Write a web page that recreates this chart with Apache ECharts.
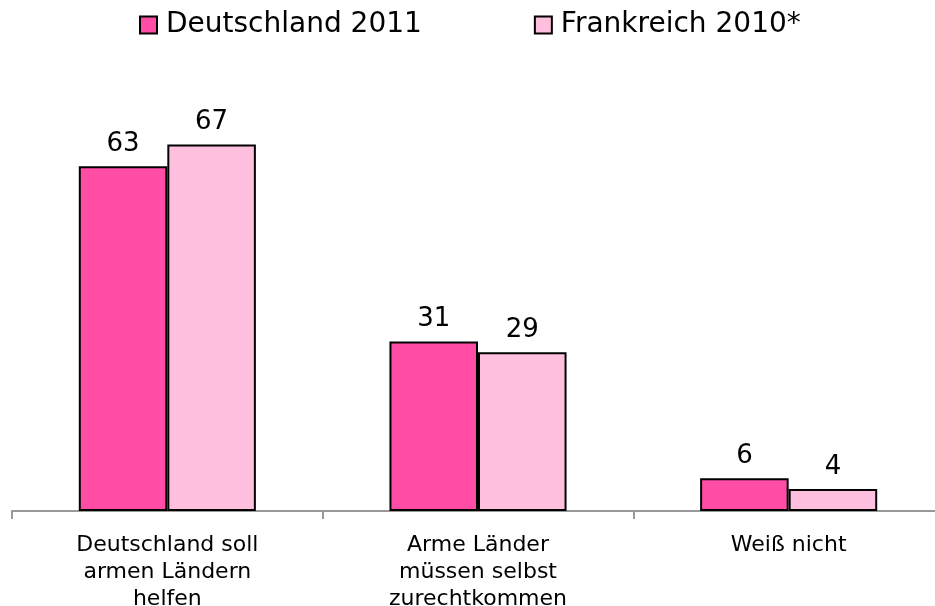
<!DOCTYPE html>
<html>
<head>
<meta charset="utf-8">
<script src="https://cdn.jsdelivr.net/npm/echarts@6/dist/echarts.min.js"></script>
<style>
  html, body { margin: 0; padding: 0; background: #fff; }
  #chart { width: 935px; height: 606px; }
</style>
</head>
<body>
<div id="chart"></div>
<script>
const categories = ['Deutschland soll\narmen Ländern\nhelfen', 'Arme Länder\nmüssen selbst\nzurechtkommen', 'Weiß nicht']
const seriesNames = ['Deutschland 2011', 'Frankreich 2010*']
const deutschland = [63, 31, 6]
const frankreich = [67, 29, 4]

const font = 'Verdana, "DejaVu Sans", sans-serif'
const chart = echarts.init(document.getElementById('chart'))

function barSeries(name, data, color) {
  return {
    name: name,
    type: 'bar',
    data: data,
    barGap: '0%',
    barCategoryGap: '43%',
    itemStyle: { color: color, borderColor: '#000', borderWidth: 2 },
    label: {
      show: true,
      position: 'top',
      distance: 9,
      color: '#000',
      fontFamily: font,
      fontSize: 26
    }
  }
}

chart.setOption({
  animation: false,
  legend: {
    top: 6,
    left: 134,
    itemWidth: 17,
    itemHeight: 17,
    itemGap: 112,
    icon: 'rect',
    itemStyle: { borderColor: '#000', borderWidth: 2 },
    textStyle: { fontFamily: font, fontSize: 28, color: '#000', padding: [0, 0, 0, 4] },
    data: seriesNames
  },
  grid: { left: 12, right: -9, top: 128, bottom: 95, outerBoundsMode: 'none', containLabel: false },
  xAxis: {
    type: 'category',
    data: categories,
    axisLine: { lineStyle: { color: '#999', width: 2 } },
    axisTick: { show: true, length: 8, lineStyle: { color: '#999', width: 2 } },
    axisLabel: {
      color: '#000',
      fontFamily: font,
      fontSize: 22,
      lineHeight: 27,
      margin: 21,
      interval: 0
    }
  },
  yAxis: {
    type: 'value',
    min: 0,
    max: 70,
    show: false
  },
  series: [
    barSeries(seriesNames[0], deutschland, '#ff4da6'),
    barSeries(seriesNames[1], frankreich, '#ffc0e0')
  ]
})
</script>
</body>
</html>
